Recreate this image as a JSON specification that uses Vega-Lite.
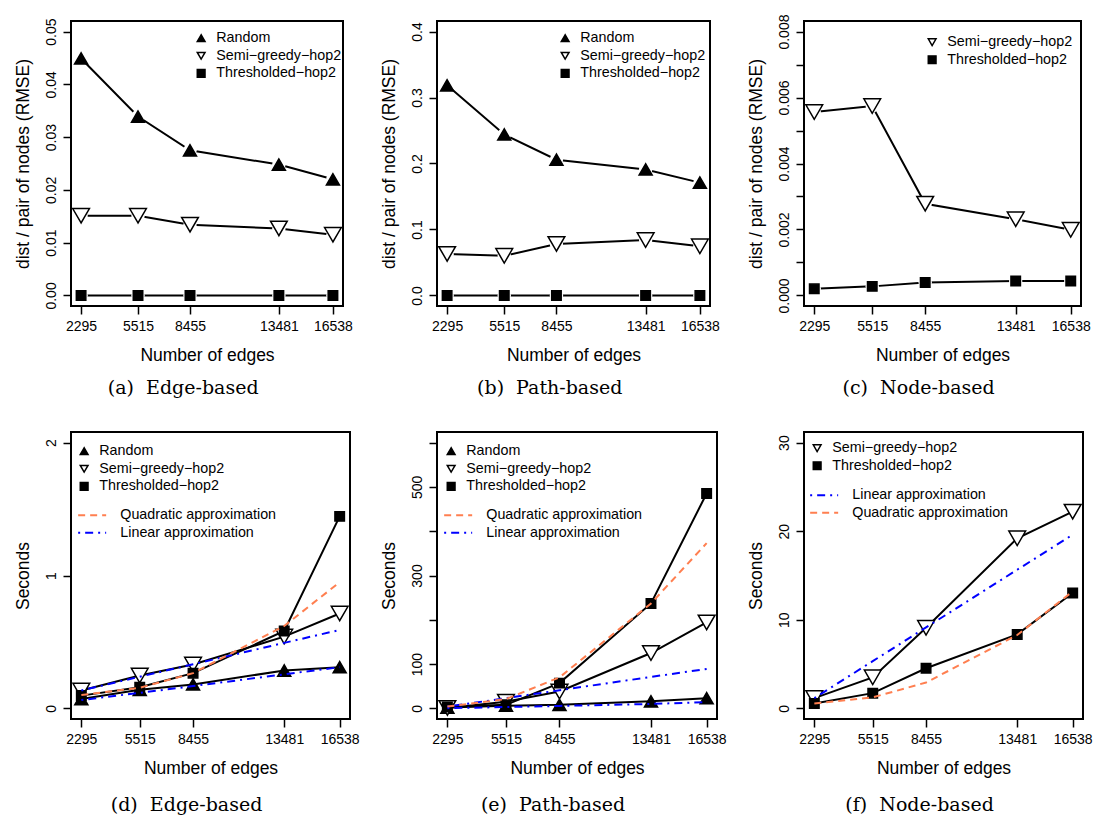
{
  "$schema": "https://vega.github.io/schema/vega-lite/v6.json",
  "background": "white",
  "padding": {"left": 13, "top": 13, "right": 5, "bottom": 5},
  "config": {
    "font": "Liberation Sans",
    "view": {"stroke": "black", "strokeWidth": 2},
    "axis": {"domain": false, "grid": false, "ticks": true, "tickColor": "black", "tickWidth": 1.5, "tickSize": 8,
      "labelFont": "Liberation Sans", "labelFontSize": 14, "labelColor": "black", "labelPadding": 5,
      "titleFont": "Liberation Sans", "titleFontSize": 17.5, "titleFontWeight": "normal", "titleColor": "black", "titlePadding": 13,
      "labelFlush": false, "labelOverlap": false},
    "axisY": {"labelAngle": -90, "labelAlign": "center", "labelBaseline": "alphabetic", "labelPadding": 8, "titlePadding": 12},
    "legend": {"labelFont": "Liberation Sans", "labelFontSize": 14.3, "labelColor": "black", "padding": 0, "rowPadding": 2.6, "labelOffset": 8, "symbolSize": 60, "labelLimit": 400},
    "title": {"orient": "bottom", "anchor": "middle", "frame": "bounds", "font": "DejaVu Serif", "fontSize": 19, "fontWeight": "normal", "color": "black", "offset": 16}
  },
  "datasets": {
    "a": [
      {"edges": 2295, "value": 0.0449, "method": "Random"},
      {"edges": 5515, "value": 0.0339, "method": "Random"},
      {"edges": 8455, "value": 0.0275, "method": "Random"},
      {"edges": 13481, "value": 0.0248, "method": "Random"},
      {"edges": 16538, "value": 0.0220, "method": "Random"},
      {"edges": 2295, "value": 0.0151, "method": "Semi−greedy−hop2"},
      {"edges": 5515, "value": 0.0151, "method": "Semi−greedy−hop2"},
      {"edges": 8455, "value": 0.0134, "method": "Semi−greedy−hop2"},
      {"edges": 13481, "value": 0.0127, "method": "Semi−greedy−hop2"},
      {"edges": 16538, "value": 0.0115, "method": "Semi−greedy−hop2"},
      {"edges": 2295, "value": 0.0, "method": "Thresholded−hop2"},
      {"edges": 5515, "value": 0.0, "method": "Thresholded−hop2"},
      {"edges": 8455, "value": 0.0, "method": "Thresholded−hop2"},
      {"edges": 13481, "value": 0.0, "method": "Thresholded−hop2"},
      {"edges": 16538, "value": 0.0, "method": "Thresholded−hop2"}
    ],
    "b": [
      {"edges": 2295, "value": 0.3185, "method": "Random"},
      {"edges": 5515, "value": 0.244, "method": "Random"},
      {"edges": 8455, "value": 0.2058, "method": "Random"},
      {"edges": 13481, "value": 0.191, "method": "Random"},
      {"edges": 16538, "value": 0.171, "method": "Random"},
      {"edges": 2295, "value": 0.063, "method": "Semi−greedy−hop2"},
      {"edges": 5515, "value": 0.060, "method": "Semi−greedy−hop2"},
      {"edges": 8455, "value": 0.078, "method": "Semi−greedy−hop2"},
      {"edges": 13481, "value": 0.084, "method": "Semi−greedy−hop2"},
      {"edges": 16538, "value": 0.0745, "method": "Semi−greedy−hop2"},
      {"edges": 2295, "value": 0.0, "method": "Thresholded−hop2"},
      {"edges": 5515, "value": 0.0, "method": "Thresholded−hop2"},
      {"edges": 8455, "value": 0.0, "method": "Thresholded−hop2"},
      {"edges": 13481, "value": 0.0, "method": "Thresholded−hop2"},
      {"edges": 16538, "value": 0.0, "method": "Thresholded−hop2"}
    ],
    "c": [
      {"edges": 2295, "value": 0.00556, "method": "Semi−greedy−hop2"},
      {"edges": 5515, "value": 0.00574, "method": "Semi−greedy−hop2"},
      {"edges": 8455, "value": 0.00278, "method": "Semi−greedy−hop2"},
      {"edges": 13481, "value": 0.00231, "method": "Semi−greedy−hop2"},
      {"edges": 16538, "value": 0.00199, "method": "Semi−greedy−hop2"},
      {"edges": 2295, "value": 0.00020, "method": "Thresholded−hop2"},
      {"edges": 5515, "value": 0.000275, "method": "Thresholded−hop2"},
      {"edges": 8455, "value": 0.00039, "method": "Thresholded−hop2"},
      {"edges": 13481, "value": 0.00044, "method": "Thresholded−hop2"},
      {"edges": 16538, "value": 0.00044, "method": "Thresholded−hop2"}
    ],
    "d": [
      {"edges": 2295, "value": 0.07, "method": "Random"},
      {"edges": 5515, "value": 0.14, "method": "Random"},
      {"edges": 8455, "value": 0.18, "method": "Random"},
      {"edges": 13481, "value": 0.285, "method": "Random"},
      {"edges": 16538, "value": 0.31, "method": "Random"},
      {"edges": 2295, "value": 0.134, "method": "Semi−greedy−hop2"},
      {"edges": 5515, "value": 0.247, "method": "Semi−greedy−hop2"},
      {"edges": 8455, "value": 0.33, "method": "Semi−greedy−hop2"},
      {"edges": 13481, "value": 0.54, "method": "Semi−greedy−hop2"},
      {"edges": 16538, "value": 0.714, "method": "Semi−greedy−hop2"},
      {"edges": 2295, "value": 0.096, "method": "Thresholded−hop2"},
      {"edges": 5515, "value": 0.159, "method": "Thresholded−hop2"},
      {"edges": 8455, "value": 0.265, "method": "Thresholded−hop2"},
      {"edges": 13481, "value": 0.583, "method": "Thresholded−hop2"},
      {"edges": 16538, "value": 1.445, "method": "Thresholded−hop2"}
    ],
    "d_fit": [
      {"edges": 2295, "value": 0.063, "series": "Random", "fit": "Linear approximation"},
      {"edges": 5515, "value": 0.117, "series": "Random", "fit": "Linear approximation"},
      {"edges": 8455, "value": 0.168, "series": "Random", "fit": "Linear approximation"},
      {"edges": 13481, "value": 0.256, "series": "Random", "fit": "Linear approximation"},
      {"edges": 16538, "value": 0.31, "series": "Random", "fit": "Linear approximation"},
      {"edges": 2295, "value": 0.135, "series": "Semi", "fit": "Linear approximation"},
      {"edges": 5515, "value": 0.238, "series": "Semi", "fit": "Linear approximation"},
      {"edges": 8455, "value": 0.332, "series": "Semi", "fit": "Linear approximation"},
      {"edges": 13481, "value": 0.493, "series": "Semi", "fit": "Linear approximation"},
      {"edges": 16538, "value": 0.59, "series": "Semi", "fit": "Linear approximation"},
      {"edges": 2295, "value": 0.10, "series": "Thresholded", "fit": "Quadratic approximation"},
      {"edges": 5515, "value": 0.155, "series": "Thresholded", "fit": "Quadratic approximation"},
      {"edges": 8455, "value": 0.265, "series": "Thresholded", "fit": "Quadratic approximation"},
      {"edges": 13481, "value": 0.62, "series": "Thresholded", "fit": "Quadratic approximation"},
      {"edges": 16538, "value": 0.95, "series": "Thresholded", "fit": "Quadratic approximation"}
    ],
    "e": [
      {"edges": 2295, "value": 2, "method": "Random"},
      {"edges": 5515, "value": 6, "method": "Random"},
      {"edges": 8455, "value": 8, "method": "Random"},
      {"edges": 13481, "value": 16, "method": "Random"},
      {"edges": 16538, "value": 23, "method": "Random"},
      {"edges": 2295, "value": 1, "method": "Semi−greedy−hop2"},
      {"edges": 5515, "value": 15, "method": "Semi−greedy−hop2"},
      {"edges": 8455, "value": 38, "method": "Semi−greedy−hop2"},
      {"edges": 13481, "value": 125, "method": "Semi−greedy−hop2"},
      {"edges": 16538, "value": 194, "method": "Semi−greedy−hop2"},
      {"edges": 2295, "value": 3, "method": "Thresholded−hop2"},
      {"edges": 5515, "value": 8, "method": "Thresholded−hop2"},
      {"edges": 8455, "value": 57, "method": "Thresholded−hop2"},
      {"edges": 13481, "value": 237, "method": "Thresholded−hop2"},
      {"edges": 16538, "value": 485, "method": "Thresholded−hop2"}
    ],
    "e_fit": [
      {"edges": 2295, "value": 0.5, "series": "Random", "fit": "Linear approximation"},
      {"edges": 5515, "value": 3, "series": "Random", "fit": "Linear approximation"},
      {"edges": 8455, "value": 5.5, "series": "Random", "fit": "Linear approximation"},
      {"edges": 13481, "value": 10, "series": "Random", "fit": "Linear approximation"},
      {"edges": 16538, "value": 14, "series": "Random", "fit": "Linear approximation"},
      {"edges": 2295, "value": 4, "series": "Semi", "fit": "Linear approximation"},
      {"edges": 5515, "value": 23, "series": "Semi", "fit": "Linear approximation"},
      {"edges": 8455, "value": 41, "series": "Semi", "fit": "Linear approximation"},
      {"edges": 13481, "value": 71, "series": "Semi", "fit": "Linear approximation"},
      {"edges": 16538, "value": 89, "series": "Semi", "fit": "Linear approximation"},
      {"edges": 2295, "value": 4, "series": "Thresholded", "fit": "Quadratic approximation"},
      {"edges": 5515, "value": 21, "series": "Thresholded", "fit": "Quadratic approximation"},
      {"edges": 8455, "value": 70, "series": "Thresholded", "fit": "Quadratic approximation"},
      {"edges": 13481, "value": 237, "series": "Thresholded", "fit": "Quadratic approximation"},
      {"edges": 16538, "value": 373, "series": "Thresholded", "fit": "Quadratic approximation"}
    ],
    "f": [
      {"edges": 2295, "value": 1.16, "method": "Semi−greedy−hop2"},
      {"edges": 5515, "value": 3.5, "method": "Semi−greedy−hop2"},
      {"edges": 8455, "value": 9.1, "method": "Semi−greedy−hop2"},
      {"edges": 13481, "value": 19.2, "method": "Semi−greedy−hop2"},
      {"edges": 16538, "value": 22.2, "method": "Semi−greedy−hop2"},
      {"edges": 2295, "value": 0.56, "method": "Thresholded−hop2"},
      {"edges": 5515, "value": 1.72, "method": "Thresholded−hop2"},
      {"edges": 8455, "value": 4.53, "method": "Thresholded−hop2"},
      {"edges": 13481, "value": 8.35, "method": "Thresholded−hop2"},
      {"edges": 16538, "value": 13.03, "method": "Thresholded−hop2"}
    ],
    "f_fit": [
      {"edges": 2295, "value": 1.16, "series": "Semi", "fit": "Linear approximation"},
      {"edges": 5515, "value": 5.33, "series": "Semi", "fit": "Linear approximation"},
      {"edges": 8455, "value": 9.14, "series": "Semi", "fit": "Linear approximation"},
      {"edges": 13481, "value": 15.65, "series": "Semi", "fit": "Linear approximation"},
      {"edges": 16538, "value": 19.6, "series": "Semi", "fit": "Linear approximation"},
      {"edges": 2295, "value": 0.56, "series": "Thresholded", "fit": "Quadratic approximation"},
      {"edges": 5515, "value": 1.24, "series": "Thresholded", "fit": "Quadratic approximation"},
      {"edges": 8455, "value": 2.92, "series": "Thresholded", "fit": "Quadratic approximation"},
      {"edges": 13481, "value": 8.28, "series": "Thresholded", "fit": "Quadratic approximation"},
      {"edges": 16538, "value": 13.2, "series": "Thresholded", "fit": "Quadratic approximation"}
    ]
  },
  "columns": 3,
  "bounds": "flush",
  "spacing": {"row": 126, "column": 87},
  "resolve": {
    "scale": {"x": "independent", "y": "independent", "shape": "independent", "fill": "independent", "stroke": "independent", "strokeDash": "independent"},
    "axis": {"x": "independent", "y": "independent"},
    "legend": {"shape": "independent", "fill": "independent", "stroke": "independent", "strokeDash": "independent"}
  },
  "concat": [
    {
      "width": 272, "height": 285,
      "title": {"text": "(a)\u00a0 Edge-based", "offset": 15},
      "data": {"name": "a"},
      "encoding": {
        "x": {"field": "edges", "type": "quantitative", "scale": {"domain": [1725.28, 17107.72], "nice": false, "zero": false}, "axis": {"values": [2295, 5515, 8455, 13481, 16538], "format": "d", "title": "Number of edges"}},
        "y": {"field": "value", "type": "quantitative", "scale": {"domain": [-0.002, 0.052], "nice": false, "zero": false}, "axis": {"values": [0, 0.01, 0.02, 0.03, 0.04, 0.05], "format": ".2f", "title": "dist / pair of nodes (RMSE)"}}
      },
      "layer": [
        {"mark": {"type": "line", "color": "black", "strokeWidth": 2}, "encoding": {"detail": {"field": "method"}}},
        {"mark": {"type": "circle", "color": "white", "opacity": 1, "size": 180}},
        {"mark": {"type": "point", "filled": true, "opacity": 1, "stroke": "black", "strokeWidth": 1.5},
          "encoding": {
            "shape": {"field": "method", "type": "nominal", "scale": {"domain": ["Random", "Semi−greedy−hop2", "Thresholded−hop2"], "range": ["triangle-up", "triangle-down", "square"]}, "legend": {"title": null, "orient": "none", "legendX": 123, "legendY": 10, "encode": {"symbols": {"update": {"stroke": {"value": "black"}, "strokeWidth": {"value": 1.3}}}}}},
            "fill": {"field": "method", "type": "nominal", "scale": {"domain": ["Random", "Semi−greedy−hop2", "Thresholded−hop2"], "range": ["black", "white", "black"]}, "legend": {"title": null, "orient": "none", "legendX": 123, "legendY": 10, "encode": {"symbols": {"update": {"stroke": {"value": "black"}, "strokeWidth": {"value": 1.3}}}}}},
            "size": {"condition": [{"test": "datum.method === 'Random'", "value": 170}, {"test": "datum.method === 'Thresholded−hop2'", "value": 90}], "value": 280}
          }}
      ]
    },
    {
      "width": 273, "height": 285,
      "title": {"text": "(b)\u00a0 Path-based", "offset": 15},
      "data": {"name": "b"},
      "encoding": {
        "x": {"field": "edges", "type": "quantitative", "scale": {"domain": [1725.28, 17107.72], "nice": false, "zero": false}, "axis": {"values": [2295, 5515, 8455, 13481, 16538], "format": "d", "title": "Number of edges"}},
        "y": {"field": "value", "type": "quantitative", "scale": {"domain": [-0.016, 0.416], "nice": false, "zero": false}, "axis": {"values": [0, 0.1, 0.2, 0.3, 0.4], "format": ".1f", "title": "dist / pair of nodes (RMSE)"}}
      },
      "layer": [
        {"mark": {"type": "line", "color": "black", "strokeWidth": 2}, "encoding": {"detail": {"field": "method"}}},
        {"mark": {"type": "circle", "color": "white", "opacity": 1, "size": 180}},
        {"mark": {"type": "point", "filled": true, "opacity": 1, "stroke": "black", "strokeWidth": 1.5},
          "encoding": {
            "shape": {"field": "method", "type": "nominal", "scale": {"domain": ["Random", "Semi−greedy−hop2", "Thresholded−hop2"], "range": ["triangle-up", "triangle-down", "square"]}, "legend": {"title": null, "orient": "none", "legendX": 121, "legendY": 10, "encode": {"symbols": {"update": {"stroke": {"value": "black"}, "strokeWidth": {"value": 1.3}}}}}},
            "fill": {"field": "method", "type": "nominal", "scale": {"domain": ["Random", "Semi−greedy−hop2", "Thresholded−hop2"], "range": ["black", "white", "black"]}, "legend": {"title": null, "orient": "none", "legendX": 121, "legendY": 10, "encode": {"symbols": {"update": {"stroke": {"value": "black"}, "strokeWidth": {"value": 1.3}}}}}},
            "size": {"condition": [{"test": "datum.method === 'Random'", "value": 170}, {"test": "datum.method === 'Thresholded−hop2'", "value": 90}], "value": 280}
          }}
      ]
    },
    {
      "width": 277, "height": 285,
      "title": {"text": "(c)\u00a0 Node-based", "offset": 15},
      "data": {"name": "c"},
      "encoding": {
        "x": {"field": "edges", "type": "quantitative", "scale": {"domain": [1725.28, 17107.72], "nice": false, "zero": false}, "axis": {"values": [2295, 5515, 8455, 13481, 16538], "format": "d", "title": "Number of edges"}},
        "y": {"field": "value", "type": "quantitative", "scale": {"domain": [-0.00032, 0.00832], "nice": false, "zero": false}, "axis": {"values": [0, 0.001, 0.002, 0.003, 0.004, 0.005, 0.006, 0.007, 0.008], "format": ".3f", "labelExpr": "round(datum.value * 1000) % 2 == 0 ? datum.label : ''", "title": "dist / pair of nodes (RMSE)"}}
      },
      "layer": [
        {"mark": {"type": "line", "color": "black", "strokeWidth": 2}, "encoding": {"detail": {"field": "method"}}},
        {"mark": {"type": "circle", "color": "white", "opacity": 1, "size": 180}},
        {"mark": {"type": "point", "filled": true, "opacity": 1, "stroke": "black", "strokeWidth": 1.5},
          "encoding": {
            "shape": {"field": "method", "type": "nominal", "scale": {"domain": ["Semi−greedy−hop2", "Thresholded−hop2"], "range": ["triangle-down", "square"]}, "legend": {"title": null, "orient": "none", "legendX": 121, "legendY": 14, "encode": {"symbols": {"update": {"stroke": {"value": "black"}, "strokeWidth": {"value": 1.3}}}}}},
            "fill": {"field": "method", "type": "nominal", "scale": {"domain": ["Semi−greedy−hop2", "Thresholded−hop2"], "range": ["white", "black"]}, "legend": {"title": null, "orient": "none", "legendX": 121, "legendY": 14, "encode": {"symbols": {"update": {"stroke": {"value": "black"}, "strokeWidth": {"value": 1.3}}}}}},
            "size": {"condition": [{"test": "datum.method === 'Thresholded−hop2'", "value": 90}], "value": 280}
          }}
      ]
    },
    {
      "width": 279, "height": 287,
      "title": {"text": "(d)\u00a0 Edge-based", "offset": 19},
      "encoding": {
        "x": {"field": "edges", "type": "quantitative", "scale": {"domain": [1725.28, 17107.72], "nice": false, "zero": false}, "axis": {"values": [2295, 5515, 8455, 13481, 16538], "format": "d", "title": "Number of edges"}},
        "y": {"field": "value", "type": "quantitative", "scale": {"domain": [-0.08, 2.08], "nice": false, "zero": false}, "axis": {"values": [0, 1, 2], "format": "d", "title": "Seconds"}}
      },
      "layer": [
        {"data": {"name": "d"}, "mark": {"type": "line", "color": "black", "strokeWidth": 2}, "encoding": {"detail": {"field": "method"}}},
        {"data": {"name": "d"}, "mark": {"type": "point", "filled": true, "opacity": 1, "stroke": "black", "strokeWidth": 1.5},
          "encoding": {
            "shape": {"field": "method", "type": "nominal", "scale": {"domain": ["Random", "Semi−greedy−hop2", "Thresholded−hop2"], "range": ["triangle-up", "triangle-down", "square"]}, "legend": {"title": null, "orient": "none", "legendX": 6, "legendY": 12, "encode": {"symbols": {"update": {"stroke": {"value": "black"}, "strokeWidth": {"value": 1.3}}}}}},
            "fill": {"field": "method", "type": "nominal", "scale": {"domain": ["Random", "Semi−greedy−hop2", "Thresholded−hop2"], "range": ["black", "white", "black"]}, "legend": {"title": null, "orient": "none", "legendX": 6, "legendY": 12, "encode": {"symbols": {"update": {"stroke": {"value": "black"}, "strokeWidth": {"value": 1.3}}}}}},
            "size": {"condition": [{"test": "datum.method === 'Random'", "value": 170}, {"test": "datum.method === 'Thresholded−hop2'", "value": 90}], "value": 280}
          }},
        {"data": {"name": "d_fit"}, "mark": {"type": "line", "strokeWidth": 2},
          "encoding": {
            "detail": {"field": "series"},
            "stroke": {"field": "fit", "type": "nominal", "scale": {"domain": ["Quadratic approximation", "Linear approximation"], "range": ["#FF7F50", "#0000FF"]}, "legend": {"title": null, "orient": "none", "legendX": 14, "legendY": 76, "symbolType": "M-4,0H4", "symbolSize": 49, "symbolStrokeWidth": 2, "labelOffset": 21}},
            "strokeDash": {"field": "fit", "type": "nominal", "scale": {"domain": ["Quadratic approximation", "Linear approximation"], "range": [[7, 5], [2, 5, 8, 5]]}, "legend": {"title": null, "orient": "none", "legendX": 14, "legendY": 76, "symbolType": "M-4,0H4", "symbolSize": 49, "symbolStrokeWidth": 2, "labelOffset": 21}}
          }}
      ]
    },
    {
      "width": 280, "height": 287,
      "title": {"text": "(e)\u00a0 Path-based", "offset": 19},
      "encoding": {
        "x": {"field": "edges", "type": "quantitative", "scale": {"domain": [1725.28, 17107.72], "nice": false, "zero": false}, "axis": {"values": [2295, 5515, 8455, 13481, 16538], "format": "d", "title": "Number of edges"}},
        "y": {"field": "value", "type": "quantitative", "scale": {"domain": [-24, 624], "nice": false, "zero": false}, "axis": {"values": [0, 100, 200, 300, 400, 500, 600], "format": "d", "labelExpr": "(datum.value == 0 || datum.value == 100 || datum.value == 300 || datum.value == 500) ? datum.label : ''", "title": "Seconds"}}
      },
      "layer": [
        {"data": {"name": "e"}, "mark": {"type": "line", "color": "black", "strokeWidth": 2}, "encoding": {"detail": {"field": "method"}}},
        {"data": {"name": "e"}, "mark": {"type": "point", "filled": true, "opacity": 1, "stroke": "black", "strokeWidth": 1.5},
          "encoding": {
            "shape": {"field": "method", "type": "nominal", "scale": {"domain": ["Random", "Semi−greedy−hop2", "Thresholded−hop2"], "range": ["triangle-up", "triangle-down", "square"]}, "legend": {"title": null, "orient": "none", "legendX": 7, "legendY": 12, "encode": {"symbols": {"update": {"stroke": {"value": "black"}, "strokeWidth": {"value": 1.3}}}}}},
            "fill": {"field": "method", "type": "nominal", "scale": {"domain": ["Random", "Semi−greedy−hop2", "Thresholded−hop2"], "range": ["black", "white", "black"]}, "legend": {"title": null, "orient": "none", "legendX": 7, "legendY": 12, "encode": {"symbols": {"update": {"stroke": {"value": "black"}, "strokeWidth": {"value": 1.3}}}}}},
            "size": {"condition": [{"test": "datum.method === 'Random'", "value": 170}, {"test": "datum.method === 'Thresholded−hop2'", "value": 90}], "value": 280}
          }},
        {"data": {"name": "e_fit"}, "mark": {"type": "line", "strokeWidth": 2},
          "encoding": {
            "detail": {"field": "series"},
            "stroke": {"field": "fit", "type": "nominal", "scale": {"domain": ["Quadratic approximation", "Linear approximation"], "range": ["#FF7F50", "#0000FF"]}, "legend": {"title": null, "orient": "none", "legendX": 14, "legendY": 76, "symbolType": "M-4,0H4", "symbolSize": 49, "symbolStrokeWidth": 2, "labelOffset": 21}},
            "strokeDash": {"field": "fit", "type": "nominal", "scale": {"domain": ["Quadratic approximation", "Linear approximation"], "range": [[7, 5], [2, 5, 8, 5]]}, "legend": {"title": null, "orient": "none", "legendX": 14, "legendY": 76, "symbolType": "M-4,0H4", "symbolSize": 49, "symbolStrokeWidth": 2, "labelOffset": 21}}
          }}
      ]
    },
    {
      "width": 279, "height": 287,
      "title": {"text": "(f)\u00a0 Node-based", "offset": 19},
      "encoding": {
        "x": {"field": "edges", "type": "quantitative", "scale": {"domain": [1725.28, 17107.72], "nice": false, "zero": false}, "axis": {"values": [2295, 5515, 8455, 13481, 16538], "format": "d", "title": "Number of edges"}},
        "y": {"field": "value", "type": "quantitative", "scale": {"domain": [-1.2, 31.2], "nice": false, "zero": false}, "axis": {"values": [0, 10, 20, 30], "format": "d", "title": "Seconds"}}
      },
      "layer": [
        {"data": {"name": "f"}, "mark": {"type": "line", "color": "black", "strokeWidth": 2}, "encoding": {"detail": {"field": "method"}}},
        {"data": {"name": "f"}, "mark": {"type": "point", "filled": true, "opacity": 1, "stroke": "black", "strokeWidth": 1.5},
          "encoding": {
            "shape": {"field": "method", "type": "nominal", "scale": {"domain": ["Semi−greedy−hop2", "Thresholded−hop2"], "range": ["triangle-down", "square"]}, "legend": {"title": null, "orient": "none", "legendX": 6, "legendY": 9, "encode": {"symbols": {"update": {"stroke": {"value": "black"}, "strokeWidth": {"value": 1.3}}}}}},
            "fill": {"field": "method", "type": "nominal", "scale": {"domain": ["Semi−greedy−hop2", "Thresholded−hop2"], "range": ["white", "black"]}, "legend": {"title": null, "orient": "none", "legendX": 6, "legendY": 9, "encode": {"symbols": {"update": {"stroke": {"value": "black"}, "strokeWidth": {"value": 1.3}}}}}},
            "size": {"condition": [{"test": "datum.method === 'Thresholded−hop2'", "value": 90}], "value": 280}
          }},
        {"data": {"name": "f_fit"}, "mark": {"type": "line", "strokeWidth": 2},
          "encoding": {
            "detail": {"field": "series"},
            "stroke": {"field": "fit", "type": "nominal", "scale": {"domain": ["Linear approximation", "Quadratic approximation"], "range": ["#0000FF", "#FF7F50"]}, "legend": {"title": null, "orient": "none", "legendX": 13, "legendY": 56, "symbolType": "M-4,0H4", "symbolSize": 49, "symbolStrokeWidth": 2, "labelOffset": 21}},
            "strokeDash": {"field": "fit", "type": "nominal", "scale": {"domain": ["Linear approximation", "Quadratic approximation"], "range": [[2, 5, 8, 5], [7, 5]]}, "legend": {"title": null, "orient": "none", "legendX": 13, "legendY": 56, "symbolType": "M-4,0H4", "symbolSize": 49, "symbolStrokeWidth": 2, "labelOffset": 21}}
          }}
      ]
    }
  ]
}
